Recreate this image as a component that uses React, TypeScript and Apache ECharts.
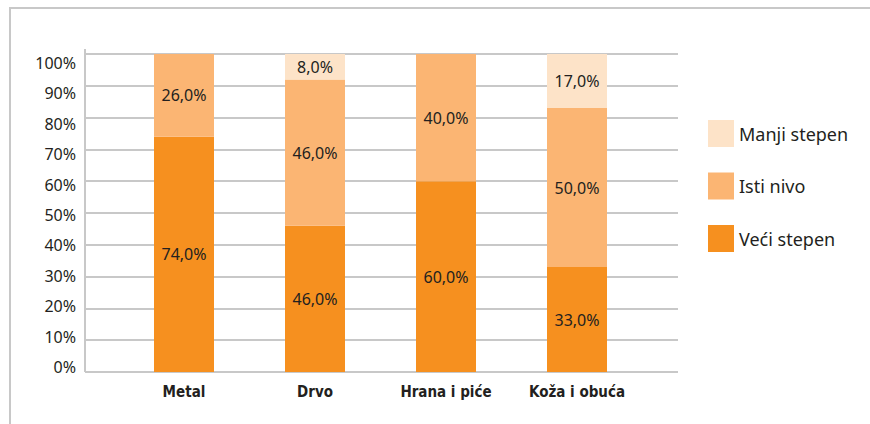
import React, { useEffect, useRef } from "react";
import * as echarts from "echarts";

const categories = ["Metal", "Drvo", "Hrana i piće", "Koža i obuća"];
const veciStepen = [74, 46, 60, 33];
const istiNivo = [26, 46, 40, 50];
const manjiStepen = [0, 8, 0, 17];
const yTicks = [0, 10, 20, 30, 40, 50, 60, 70, 80, 90, 100];

const FONT = "'Noto Sans', 'Open Sans', sans-serif";
const TXT = "#231f20";
const GRID = "#c8c8c8";

export default function App() {
  const ref = useRef<HTMLDivElement>(null);
  useEffect(() => {
    if (!ref.current) return;
    const chart = echarts.init(ref.current, undefined, { renderer: "svg" });
    const fmt = (p: any) => (p.value ? p.value.toFixed(1).replace(".", ",") + "%" : "");
    const label = {
      show: true,
      position: "inside" as const,
      color: TXT,
      fontSize: 16,
      fontFamily: FONT,
      formatter: fmt,
    };
    chart.setOption({
      animation: false,
      backgroundColor: "#ffffff",
      graphic: [
        {
          type: "polyline",
          shape: { points: [[10, 424], [10, 8], [870, 8]] },
          style: { stroke: GRID, lineWidth: 2, fill: "none" },
          silent: true,
        },
        {
          type: "line",
          shape: { x1: 85, y1: 49, x2: 85, y2: 372 },
          style: { stroke: GRID, lineWidth: 2 },
          silent: true,
          z: 10,
        },
      ],
      grid: [
        { left: 85, right: 192, top: 54, bottom: 52 },
        { left: 118.5, right: 227.5, top: 54, bottom: 52 },
        { left: 85, right: 192, top: 63, bottom: 57 },
      ],
      xAxis: [
        { type: "category", gridIndex: 0, data: [""], show: false },
        {
          type: "category",
          gridIndex: 1,
          data: categories,
          axisLine: { show: false },
          axisTick: { show: false },
          axisLabel: {
            interval: 0,
            color: TXT,
            fontSize: 15,
            fontWeight: "bold",
            fontFamily: "'Liberation Sans Narrow', 'DejaVu Sans Condensed', sans-serif",
            margin: 12,
          },
        },
        { type: "category", gridIndex: 2, data: [""], show: false },
      ],
      yAxis: [
        {
          type: "value",
          gridIndex: 0,
          min: 0,
          max: 100,
          interval: 10,
          axisLine: { show: false },
          axisTick: { show: false },
          axisLabel: { show: false },
          splitLine: { lineStyle: { color: GRID, width: 2 } },
        },
        { type: "value", gridIndex: 1, min: 0, max: 100, show: false },
        {
          type: "value",
          gridIndex: 2,
          min: 0,
          max: 100,
          interval: 10,
          axisLine: { show: false },
          axisTick: { show: false },
          splitLine: { show: false },
          axisLabel: {
            color: TXT,
            fontSize: 16,
            fontFamily: FONT,
            margin: 9,
            formatter: (v: number) => (yTicks.includes(v) ? v + "%" : ""),
          },
        },
      ],
      legend: {
        orient: "vertical",
        left: 703,
        top: 115,
        itemWidth: 26,
        itemHeight: 27,
        itemGap: 25.5,
        icon: "rect",
        data: ["Manji stepen", "Isti nivo", "Veći stepen"],
        textStyle: { color: TXT, fontSize: 18, fontFamily: FONT },
      },
      series: [
        {
          name: "Veći stepen",
          type: "bar",
          stack: "total",
          xAxisIndex: 1,
          yAxisIndex: 1,
          barWidth: 60,
          data: veciStepen,
          itemStyle: { color: "#f6901f" },
          label,
        },
        {
          name: "Isti nivo",
          type: "bar",
          stack: "total",
          xAxisIndex: 1,
          yAxisIndex: 1,
          barWidth: 60,
          data: istiNivo,
          itemStyle: { color: "#fbb573" },
          label,
        },
        {
          name: "Manji stepen",
          type: "bar",
          stack: "total",
          xAxisIndex: 1,
          yAxisIndex: 1,
          barWidth: 60,
          data: manjiStepen,
          itemStyle: { color: "#fde3c8" },
          label,
        },
      ],
    });
    return () => chart.dispose();
  }, []);
  return (
    <div
      ref={ref}
      style={{ position: "fixed", left: 0, top: 0, width: 870, height: 424 }}
    />
  );
}
